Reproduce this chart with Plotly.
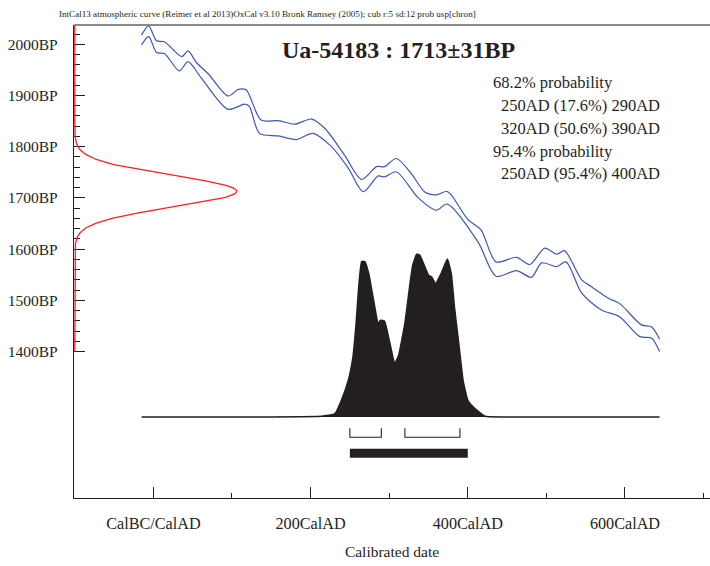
import numpy as np
import plotly.graph_objects as go

# IntCal13 calibration envelope: upper (mean + 1 sigma) edge, cal AD vs BP
curve_upper_year = [-15, -6, 4, 14, 36, 44, 55, 70, 95, 108, 118, 137, 159, 180, 201, 218,
                    243, 265, 284, 294, 309, 328, 345, 360, 373, 379, 400, 417, 436, 462,
                    479, 498, 513, 523, 545, 557, 579, 593, 621, 634, 644]
curve_upper_bp = [2018, 2036, 2007, 2005, 1976, 1987, 1964, 1942, 1899, 1912, 1911, 1852, 1851,
                  1844, 1854, 1836, 1784, 1736, 1761, 1761, 1777, 1748, 1712, 1706, 1713, 1706,
                  1658, 1637, 1575, 1584, 1570, 1602, 1590, 1597, 1540, 1527, 1504, 1494, 1452,
                  1448, 1424]

# lower (mean - 1 sigma) edge
curve_lower_year = [-15, -6, 4, 14, 33, 44, 61, 95, 116, 122, 135, 159, 182, 203, 226, 248,
                    267, 286, 294, 309, 337, 360, 374, 413, 436, 462, 481, 494, 513, 525, 545,
                    570, 593, 619, 634, 644]
curve_lower_bp = [1999, 2015, 1984, 1982, 1948, 1966, 1934, 1873, 1883, 1879, 1826, 1821, 1814,
                  1826, 1801, 1758, 1712, 1743, 1741, 1751, 1700, 1676, 1688, 1614, 1547, 1558,
                  1545, 1573, 1566, 1575, 1514, 1481, 1468, 1429, 1426, 1400]

# radiocarbon measurement
sample_id = "Ua-54183"
date_bp = 1713
date_err = 31

# calibrated probability distribution (relative)
post_year = [-15, 150, 214, 231, 239, 248, 254, 258, 261, 265, 269, 274, 280, 286, 289, 294,
             301, 307, 312, 320, 326, 330, 335, 339, 350, 354, 359, 366, 374, 379, 383, 388,
             394, 400, 409, 422, 443, 644]
post_prob = [0, 0, 0.004, 0.02, 0.10, 0.225, 0.37, 0.575, 0.78, 0.955, 0.955, 0.88, 0.72,
             0.577, 0.594, 0.59, 0.45, 0.328, 0.378, 0.575, 0.80, 0.933, 1.0, 0.994, 0.871,
             0.86, 0.82, 0.88, 0.97, 0.88, 0.676, 0.473, 0.225, 0.102, 0.052, 0.004, 0, 0]

# highest posterior density ranges
ranges_68 = [(250, 290), (320, 390)]
ranges_95 = [(250, 400)]

summary_lines = [
    ("68.2% probability", 0),
    ("250AD (17.6%) 290AD", 1),
    ("320AD (50.6%) 390AD", 1),
    ("95.4% probability", 0),
    ("250AD (95.4%) 400AD", 1),
]

x_tick_vals = [0, 200, 400, 600]
x_tick_text = ["CalBC/CalAD", "200CalAD", "400CalAD", "600CalAD"]
x_minor_vals = [100, 300, 500, 700]
y_tick_vals = [1400, 1500, 1600, 1700, 1800, 1900, 2000]
y_tick_text = [f"{v}BP" for v in y_tick_vals]
y_minor_vals = [v for v in range(1400, 2040, 20) if v % 100]

header = ("IntCal13 atmospheric curve (Reimer et al 2013)OxCal v3.10 Bronk Ramsey (2005); "
          "cub r:5 sd:12 prob usp[chron]")

FONT = "Liberation Serif"
TXT = "#231f20"
BLUE = "#3f57b4"
RED = "#ff1f1f"

X_MIN, X_MAX = -101, 708.2
Y_MIN, Y_MAX = 1113.9, 2037.7

fig = go.Figure()

# calibration curve envelope
fig.add_trace(go.Scatter(x=curve_upper_year, y=curve_upper_bp, mode="lines",
                         line=dict(color=BLUE, width=1.2, shape="spline", smoothing=0.8),
                         hoverinfo="skip"))
fig.add_trace(go.Scatter(x=curve_lower_year, y=curve_lower_bp, mode="lines",
                         line=dict(color=BLUE, width=1.2, shape="spline", smoothing=0.8),
                         hoverinfo="skip"))

# measured date as a normal distribution along the BP axis
bp_grid = np.linspace(1400, 2040, 400)
dens = np.exp(-0.5 * ((bp_grid - date_bp) / date_err) ** 2)
fig.add_trace(go.Scatter(x=-100 + 206 * dens, y=bp_grid, mode="lines",
                         line=dict(color=RED, width=1.3), hoverinfo="skip"))

# calibrated distribution on its own hidden axis
fig.add_trace(go.Scatter(x=post_year, y=post_prob, yaxis="y2", mode="lines",
                         fill="tozeroy", fillcolor=TXT,
                         line=dict(color=TXT, width=1.6, shape="spline", smoothing=0.4),
                         hoverinfo="skip"))

# 68.2% brackets
for lo, hi in ranges_68:
    fig.add_trace(go.Scatter(x=[lo, lo, hi, hi], y=[-0.07, -0.125, -0.125, -0.07],
                             yaxis="y2", mode="lines",
                             line=dict(color=TXT, width=1.1), hoverinfo="skip"))
# 95.4% bar
for lo, hi in ranges_95:
    fig.add_trace(go.Scatter(x=[lo, hi], y=[-0.2235, -0.2235], yaxis="y2", mode="lines",
                             line=dict(color=TXT, width=9), hoverinfo="skip"))

annotations = [
    dict(text=header, x=-0.0267, y=1.023, xref="paper", yref="paper",
         xanchor="left", yanchor="middle", showarrow=False,
         font=dict(family=FONT, size=9.1, color=TXT)),
    dict(text=f"<b>{sample_id} : {date_bp}±{date_err}BP</b>",
         x=(398 - 74) / 636, y=(498 - 50) / 473, xref="paper", yref="paper",
         xanchor="center", yanchor="middle", showarrow=False,
         font=dict(family=FONT, size=24, color=TXT)),
]

line_y = [83, 105.5, 128, 151, 173.5]
for (txt, indent), py in zip(summary_lines, line_y):
    px = 490.5 if indent == 0 else 499.3
    annotations.append(dict(text=txt, x=(px - 74) / 636, y=(498 - py) / 473,
                            xref="paper", yref="paper", xanchor="left", yanchor="middle",
                            showarrow=False, font=dict(family=FONT, size=16.5, color=TXT)))

fig.update_layout(
    width=710, height=566,
    margin=dict(l=74, r=0, t=25, b=68),
    paper_bgcolor="white", plot_bgcolor="white",
    showlegend=False,
    font=dict(family=FONT, color=TXT),
    xaxis=dict(range=[X_MIN, X_MAX], showgrid=False, zeroline=False,
               showline=True, linecolor=TXT, linewidth=1.4, layer="below traces",
               tickmode="array", tickvals=x_tick_vals, ticktext=x_tick_text,
               ticks="inside", ticklen=11, tickwidth=1.2, tickcolor=TXT,
               ticklabelstandoff=10,
               tickfont=dict(family=FONT, size=16.2, color=TXT),
               minor=dict(tickmode="array", tickvals=x_minor_vals, ticks="inside",
                          ticklen=5, tickwidth=1.2, tickcolor=TXT, showgrid=False),
               title=dict(text="Calibrated date", standoff=14,
                          font=dict(family=FONT, size=15.5, color=TXT))),
    yaxis=dict(range=[Y_MIN, Y_MAX], showgrid=False, zeroline=False,
               showline=True, linecolor=TXT, linewidth=1.4, layer="below traces",
               tickmode="array", tickvals=y_tick_vals, ticktext=y_tick_text,
               ticks="inside", ticklen=11, tickwidth=1.2, tickcolor=TXT,
               ticklabelstandoff=12,
               tickfont=dict(family=FONT, size=15.5, color=TXT),
               minor=dict(tickmode="array", tickvals=y_minor_vals, ticks="inside",
                          ticklen=6, tickwidth=1.2, tickcolor=TXT, showgrid=False)),
    yaxis2=dict(overlaying="y", range=[-0.498, 2.409], visible=False),
    annotations=annotations,
    shapes=[dict(type="line", xref="paper", yref="paper", x0=0, x1=1, y0=1, y1=1,
                 line=dict(color="#8a8a8a", width=2))],
)

fig.write_html("out.html")
